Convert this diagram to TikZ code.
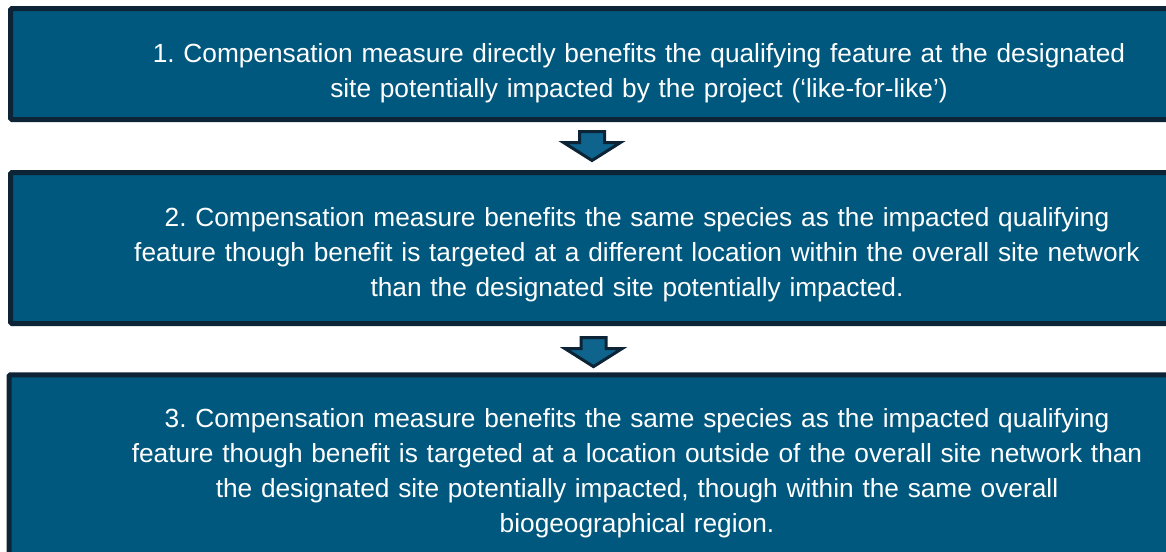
\documentclass[tikz,border=0pt]{standalone}
\usepackage{fontspec}
\setmainfont{Liberation Sans}
\usepackage{xcolor}
\usetikzlibrary{positioning,calc}

\definecolor{boxblue}{RGB}{0,88,126}
\definecolor{boxedge}{RGB}{12,36,54}
\definecolor{arrowblue}{RGB}{14,100,140}

\frenchspacing

\begin{document}
\begin{tikzpicture}[x=0.75pt,y=-0.75pt,
	box/.style={draw=boxedge, line width=3.75pt, fill=boxblue, rounded corners=1pt, minimum width=939.75pt, inner sep=0pt},
	txt/.style={text=white, font=\fontsize{19.7pt}{26.25pt}\selectfont, text width=900pt, align=center, anchor=base},
	downarrow/.style={draw=boxedge, line width=2.25pt, fill=arrowblue, line join=miter}]
	\useasboundingbox (0,0) rectangle (1166,551);

	% the three levels
	\node[box, minimum height=83.25pt] (box1) at (637,64) {};
	\node[box, minimum height=113.25pt] (box2) at (637,248) {};
	\node[box, minimum height=136.5pt, minimum width=942pt] (box3) at (637,465.75) {};

	\node[txt] (t1) at ($(box1.north)+(2,56.5)$) {1. Compensation measure directly benefits the qualifying feature at the designated\\ site potentially impacted by the project (‘like-for-like’)};
	\node[txt] (t2) at ($(box2.north)+(0,56)$) {2. Compensation measure benefits the same species as the impacted qualifying\\ feature though benefit is targeted at a different location within the overall site network\\ than the designated site potentially impacted.};
	\node[txt] (t3) at ($(box3.north)+(0,55)$) {3. Compensation measure benefits the same species as the impacted qualifying\\ feature though benefit is targeted at a location outside of the overall site network than\\ the designated site potentially impacted, though within the same overall\\ biogeographical region.};

	% block arrows between the levels
	\coordinate (a1) at ($(box1.south)!0.5!(box2.north)+(-45,0)$);
	\coordinate (a2) at ($(box2.south)!0.5!(box3.north)+(-43.5,3)$);
	\foreach \a in {a1,a2}
		\draw[downarrow] ([shift={(-12.5,-14.5)}]\a) -- ++(25,0) -- ++(0,11) -- ++(16,0)
			-- ++(-28.5,18) -- ++(-28.5,-18) -- ++(16,0) -- cycle;
\end{tikzpicture}
\end{document}
